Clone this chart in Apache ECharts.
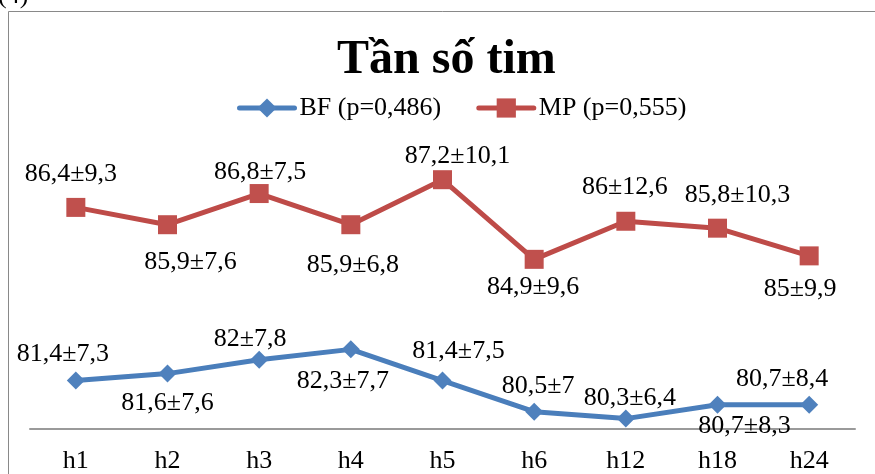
<!DOCTYPE html>
<html>
<head>
<meta charset="utf-8">
<script src="https://cdn.jsdelivr.net/npm/echarts@6/dist/echarts.min.js"></script>
<style>
html,body{margin:0;padding:0;background:#fff;}
#chart{width:875px;height:474px;}
</style>
</head>
<body>
<div id="chart"></div>
<script>
const categories = ['h1','h2','h3','h4','h5','h6','h12','h18','h24'];
const bfMean = [81.4, 81.6, 82, 82.3, 81.4, 80.5, 80.3, 80.7, 80.7];
const bfSd   = [7.3, 7.6, 7.8, 7.7, 7.5, 7, 6.4, 8.3, 8.4];
const mpMean = [86.4, 85.9, 86.8, 85.9, 87.2, 84.9, 86, 85.8, 85];
const mpSd   = [9.3, 7.6, 7.5, 6.8, 10.1, 9.6, 12.6, 10.3, 9.9];
const seriesNames = ['BF (p=0,486)', 'MP (p=0,555)'];
const titleText = 'Tần số tim';

// label layout (pixel offsets from each marker centre)
const bfLabelOffset = [[-13,-26],[0,30],[-9,-21],[-8,32],[16,-29],[4,-26],[4,-20],[27,21],[-27,-26]];
const mpLabelOffset = [[-5,-33],[23,37],[1,-21],[2,40],[15,-24],[-1,28],[-1,-34],[20,-33],[-9,33]];

const FONT = '"Liberation Serif","Times New Roman",serif';
const fmt = v => String(v).replace('.', ',');

function buildData(means, sds, offs) {
  return means.map((m, i) => ({
    value: m,
    label: { offset: offs[i], formatter: fmt(m) + '±' + fmt(sds[i]) }
  }));
}

const chart = echarts.init(document.getElementById('chart'), null, {renderer:'canvas'});
chart.setOption({
  animation: false,
  backgroundColor: '#ffffff',
  title: {
    text: titleText,
    left: 337, top: 37, padding: 0,
    textStyle: { fontFamily: FONT, fontWeight: 'bold', fontSize: 48, color: '#000', lineHeight: 48 }
  },
  legend: {
    left: 237, top: 95, padding: 0,
    itemWidth: 55, itemHeight: 24, itemGap: 35,
    lineStyle: { width: 5 },
    textStyle: { fontFamily: FONT, fontSize: 26, color: '#000' },
    data: seriesNames
  },
  graphic: [
    { type: 'rect', silent: true, shape: { x: 8.5, y: 11.5, width: 900, height: 500 },
      style: { fill: 'none', stroke: '#898989', lineWidth: 1 } },
    { type: 'text', silent: true, x: -2, y: 9,
      style: { text: '(4)', font: '26px ' + FONT, fill: '#000', textVerticalAlign: 'bottom' } }
  ],
  grid: { left: 30, right: 20, top: 152, bottom: 41, containLabel: false },
  xAxis: {
    type: 'category', data: categories, boundaryGap: true,
    axisLine: { show: true, lineStyle: { color: '#9a9a9a', width: 2 } },
    axisTick: { show: false },
    axisLabel: { fontFamily: FONT, fontSize: 26, color: '#000', margin: 19 },
    splitLine: { show: false }
  },
  yAxis: {
    type: 'value', min: 80, max: 88, interval: 1, show: false,
    splitLine: { show: false }
  },
  series: [
    {
      name: seriesNames[0], type: 'line',
      data: buildData(bfMean, bfSd, bfLabelOffset),
      symbol: 'diamond', symbolSize: 18,
      lineStyle: { color: '#4A7EBB', width: 5, cap: 'round' },
      itemStyle: { color: '#4F81BD' },
      label: { show: true, position: 'inside', align: 'center', verticalAlign: 'middle',
               fontFamily: FONT, fontSize: 26, color: '#000' }
    },
    {
      name: seriesNames[1], type: 'line',
      data: buildData(mpMean, mpSd, mpLabelOffset),
      symbol: 'rect', symbolSize: 19,
      lineStyle: { color: '#BE4B48', width: 5, cap: 'round' },
      itemStyle: { color: '#C0504D' },
      label: { show: true, position: 'inside', align: 'center', verticalAlign: 'middle',
               fontFamily: FONT, fontSize: 26, color: '#000' }
    }
  ]
});
</script>
</body>
</html>
